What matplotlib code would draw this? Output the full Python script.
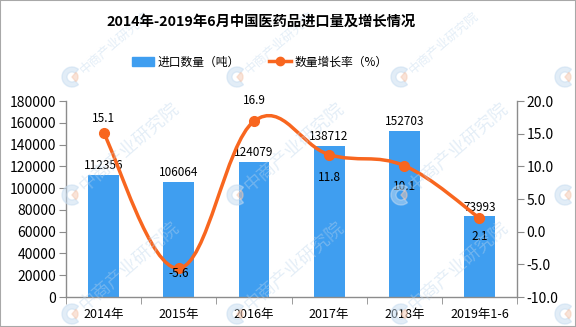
import numpy as np
import matplotlib.pyplot as plt
from matplotlib.path import Path
from matplotlib.patches import PathPatch, Rectangle, Wedge
from matplotlib.lines import Line2D
from matplotlib.transforms import IdentityTransform

plt.rcParams['font.family'] = ['Noto Sans CJK SC', 'DejaVu Sans']

years = ['2014年', '2015年', '2016年', '2017年', '2018年', '2019年1-6']
imports = [112356, 106064, 124079, 138712, 152703, 73993]
growth = [15.1, -5.6, 16.9, 11.8, 10.1, 2.1]

# vertical offset (pixels) of each growth label from its marker
growth_label_dy = [15, -5, 21, -23, -21, -19]

bar_color = '#3f9ef0'
line_color = '#f8661f'
axis_color = '#8c8c8c'

fig = plt.figure(figsize=(5.76, 3.27), dpi=100)
ax = fig.add_axes([0.1146, 0.0917, 0.7830, 0.5993])
ax2 = ax.twinx()

x = np.arange(len(years))
ax.bar(x, imports, width=0.41, color=bar_color, zorder=2)
for xi, v in zip(x, imports):
    ax.annotate(str(v), (xi, v), xytext=(0, 9 * 0.72), textcoords='offset points',
                ha='center', va='center', fontsize=8.5, zorder=5)

ax.set_xlim(-0.5, len(years) - 0.5)
ax.set_ylim(0, 180000)
ax.set_yticks(np.arange(0, 180001, 20000))
ax.set_xticks(x)
ax.set_xticklabels(years, fontsize=9)
ax.set_xticks(np.arange(-0.5, len(years), 1), minor=True)
ax.tick_params(axis='x', which='major', length=0, pad=8)
ax.tick_params(axis='x', which='minor', length=5, color=axis_color)
ax.tick_params(axis='y', labelsize=10, length=5, color=axis_color, pad=2)

# smoothed growth curve: bezier segments through the points
pts = np.column_stack([x, growth]).astype(float)
verts = [pts[0]]
codes = [Path.MOVETO]
n = len(pts)
k = 0.19
for i in range(n - 1):
    p0 = pts[i - 1] if i > 0 else pts[i]
    p1 = pts[i]
    p2 = pts[i + 1]
    p3 = pts[i + 2] if i + 2 < n else pts[i + 1]
    verts += [p1 + (p2 - p0) * k, p2 - (p3 - p1) * k, p2]
    codes += [Path.CURVE4] * 3
ax2.add_patch(PathPatch(Path(verts, codes), facecolor='none', edgecolor=line_color,
                        lw=2.5, zorder=3, capstyle='round'))
ax2.plot(x, growth, 'o', color=line_color, markersize=7, zorder=4)
for xi, g, dy in zip(x, growth, growth_label_dy):
    ax2.annotate(f'{g:.1f}', (xi, g), xytext=(0, dy * 0.72), textcoords='offset points',
                 ha='center', va='center', fontsize=8.5, zorder=5)

ax2.set_ylim(-10, 20)
ticks2 = np.arange(-10, 20.1, 5)
ax2.set_yticks(ticks2)
ax2.set_yticklabels([f'{t:.1f}' for t in ticks2])
ax2.tick_params(axis='y', labelsize=10, length=5, color=axis_color, pad=2)

for a in (ax, ax2):
    for s in a.spines.values():
        s.set_visible(False)
for s in (ax.spines['left'], ax.spines['bottom'], ax2.spines['right']):
    s.set_visible(True)
    s.set_color(axis_color)
    s.set_linewidth(1)

handles = [Rectangle((0, 0), 1, 1, color=bar_color),
           Line2D([], [], color=line_color, lw=2.5, marker='o', markersize=6)]
leg = fig.legend(handles, ['进口数量（吨）', '数量增长率（%）'], loc='center',
                 bbox_to_anchor=(0.451, 0.81), ncol=2, frameon=False, fontsize=8.5,
                 handlelength=1.9, handletextpad=0.3, columnspacing=2.4)
leg.set_zorder(20)

fig.text(0.453, 0.933, '2014年-2019年6月中国医药品进口量及增长情况',
         ha='center', va='center', fontsize=10.3, fontweight='bold', zorder=20)

# faint company watermarks (logo + rotated name)
ident = IdentityTransform()
H = 327


def watermark_logo(cx, cy):
    fig.add_artist(Wedge((cx, cy), 10, 50, 310, width=5, transform=ident,
                         color='#c6dcf0', alpha=0.5, zorder=10))
    fig.add_artist(Wedge((cx, cy), 6, -50, 50, transform=ident,
                         color='#f4c9b2', alpha=0.5, zorder=10))


for lx in (72, 237, 401):
    for ly in (77, 195, 314):
        cx, cy = lx, H - ly
        watermark_logo(cx, cy)
        size = 9 if ly < 100 else 13
        fig.text((cx + 10) / 576, (cy + 6) / H, '中商产业研究院', transform=fig.transFigure,
                 rotation=41, rotation_mode='anchor', ha='left', va='center',
                 fontsize=size, color='#bcd5ec', alpha=0.4, zorder=10)
for ly in (77, 195, 314):
    watermark_logo(565, H - ly)

fig.patches.append(Rectangle((0, 0), 1, 1, transform=fig.transFigure, fill=False,
                             edgecolor='#a8a8a8', lw=1.5))

fig.savefig('out.png', dpi=100)
